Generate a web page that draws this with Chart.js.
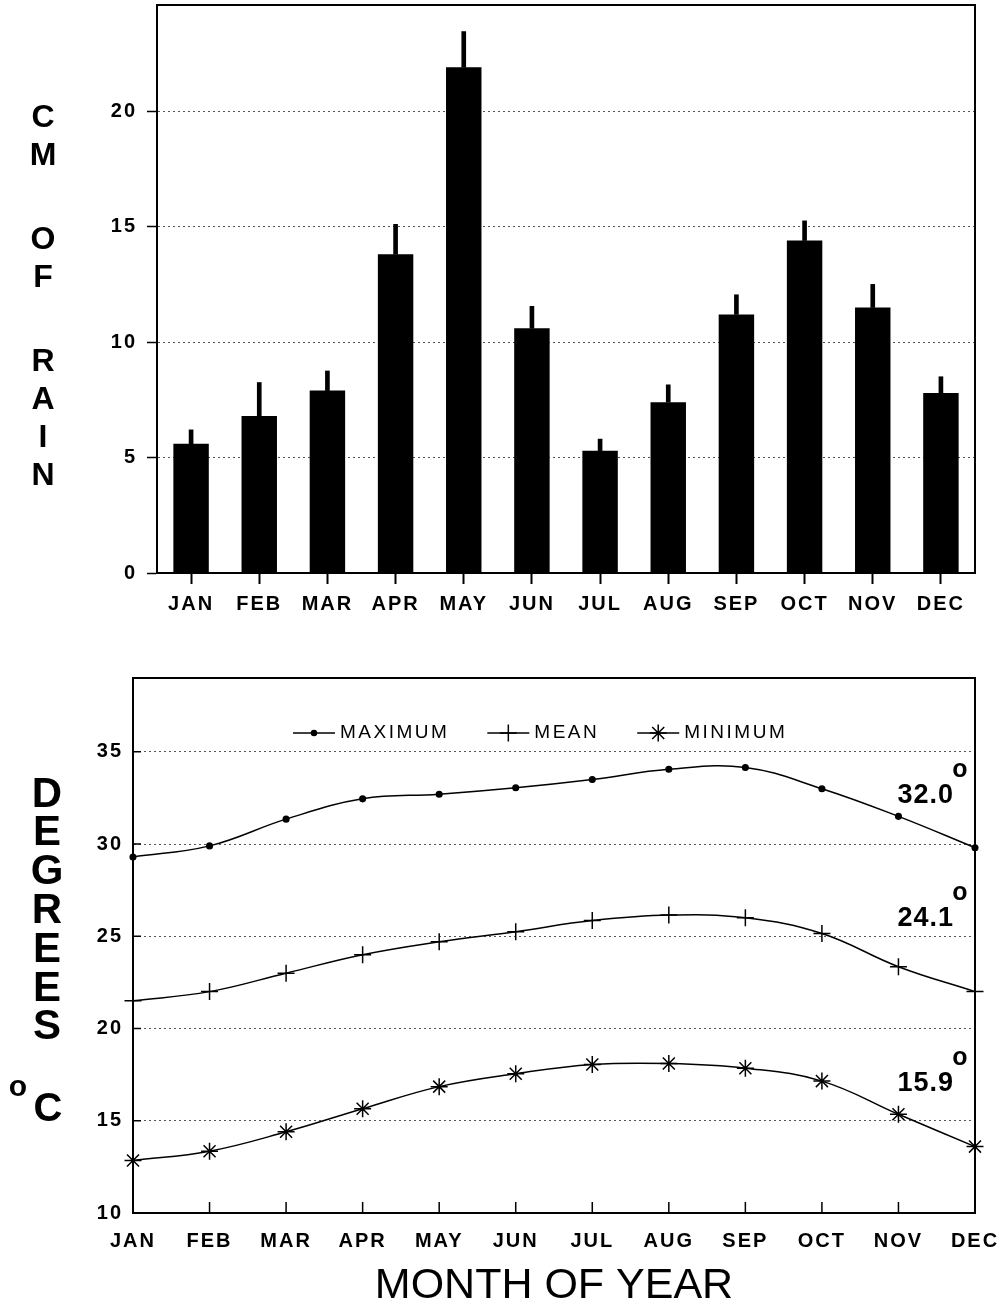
<!DOCTYPE html>
<html>
<head>
<meta charset="utf-8">
<script src="https://cdn.jsdelivr.net/npm/chart.js@4.4.0/dist/chart.umd.min.js"></script>
<style>
  html, body { margin: 0; padding: 0; background: #fff; }
  #wrap { position: relative; width: 1004px; height: 1304px; }
  canvas { position: absolute; left: 0; }
  #rainChart { top: 0; }
  #tempChart { top: 650px; }
</style>
</head>
<body>
<div id="wrap">
  <canvas id="rainChart" width="1004" height="650"></canvas>
  <canvas id="tempChart" width="1004" height="654"></canvas>
</div>
<script>
// ---- data ----
const months = ["JAN", "FEB", "MAR", "APR", "MAY", "JUN", "JUL", "AUG", "SEP", "OCT", "NOV", "DEC"];
const rainCm = [5.6, 6.8, 7.9, 13.8, 21.9, 10.6, 5.3, 7.4, 11.2, 14.4, 11.5, 7.8];
const rainErr = [0.6, 1.45, 0.85, 1.3, 1.55, 0.95, 0.5, 0.75, 0.85, 0.85, 1.0, 0.7];
const rainTicks = [0, 5, 10, 15, 20];

const tempMax = [29.3, 29.9, 31.35, 32.45, 32.7, 33.05, 33.5, 34.05, 34.15, 33.0, 31.5, 29.8];
const tempMean = [21.5, 22.0, 23.0, 24.0, 24.7, 25.25, 25.85, 26.15, 26.0, 25.15, 23.35, 22.0];
const tempMin = [12.85, 13.35, 14.4, 15.65, 16.85, 17.55, 18.05, 18.1, 17.85, 17.15, 15.35, 13.6];
const tempTicks = [10, 15, 20, 25, 30, 35];
const annualMeans = ["32.0", "24.1", "15.9"];

const FONT = "'Liberation Sans', Arial, Helvetica, sans-serif";
Chart.defaults.font.family = FONT;
Chart.defaults.color = "#000";

// box round the plot area
const frame = {
  id: "frame",
  afterDatasetsDraw(chart) {
    const { ctx, chartArea: a } = chart;
    ctx.save();
    ctx.strokeStyle = "#000";
    ctx.lineWidth = 2;
    ctx.strokeRect(a.left, a.top, a.right - a.left, a.bottom - a.top);
    ctx.restore();
  },
};

// spaced-out tick labels
const spacing = {
  id: "spacing",
  beforeDraw(chart) { chart.ctx.letterSpacing = "2px"; },
  afterDraw(chart) { chart.ctx.letterSpacing = "0px"; },
};

// no extra room for overhanging labels, plot area stays where set
const noPad = (s) => { s.paddingLeft = 0; s.paddingRight = 0; s.paddingTop = 0; s.paddingBottom = 0; };

// vertical stacked axis title
function stackedTitle(words, x, y0, lineH, wordGap, size, extra) {
  return {
    id: "stackedTitle",
    afterDraw(chart) {
      const ctx = chart.ctx;
      ctx.save();
      ctx.letterSpacing = "0px";
      ctx.fillStyle = "#000";
      ctx.font = "bold " + size + "px " + FONT;
      ctx.textAlign = "center";
      ctx.textBaseline = "middle";
      let y = y0;
      words.forEach((w) => {
        for (const ch of w) {
          ctx.fillText(ch, x, y);
          y += lineH;
        }
        y += wordGap;
      });
      if (extra) extra(ctx);
      ctx.restore();
    },
  };
}

// ----start rain bar chart ---------
const rainChart = new Chart(document.getElementById("rainChart"), {
  type: "bar",
  data: {
    labels: months,
    datasets: [
      {
        label: "CM OF RAIN",
        data: rainCm,
        backgroundColor: "#000",
        barPercentage: 0.52,
        categoryPercentage: 1,
        order: 2,
      },
      {
        label: "error",
        data: rainCm.map((v, i) => [v, v + rainErr[i]]),
        backgroundColor: "#000",
        barThickness: 4,
        grouped: false,
        order: 1,
      },
    ],
  },
  options: {
    responsive: false,
    animation: false,
    layout: { padding: { top: 5, right: 29, left: 0, bottom: 0 } },
    plugins: {
      legend: { display: false },
      tooltip: { enabled: false },
    },
    scales: {
      x: {
        grid: { drawOnChartArea: false, offset: false, tickLength: 11, tickWidth: 2, tickColor: "#000" },
        border: { color: "#000", width: 2 },
        ticks: { font: { size: 20, weight: "bold" }, padding: 8, maxRotation: 0, autoSkip: false },
        afterFit: (s) => { s.height = 650 - 573; noPad(s); },
      },
      y: {
        min: 0,
        max: 24.6,
        afterBuildTicks: (s) => { s.ticks = rainTicks.map((v) => ({ value: v })); },
        grid: { color: "#555", lineWidth: 1, tickLength: 10, tickColor: "#000", tickWidth: 1.5 },
        border: { dash: [2, 3], color: "#000", width: 2 },
        ticks: { font: { size: 20, weight: "bold" }, padding: 10 },
        afterFit: (s) => { s.width = 157; noPad(s); },
      },
    },
  },
  plugins: [spacing, frame, stackedTitle(["CM", "OF", "RAIN"], 43, 118, 38, 46, 32)],
});
// ----end rain bar chart---------

// legend drawn inside the plot
const tempLegend = {
  id: "tempLegend",
  afterDraw(chart) {
    const { ctx, chartArea: a } = chart;
    ctx.save();
    ctx.letterSpacing = "2.5px";
    ctx.font = "19px " + FONT;
    ctx.fillStyle = "#000";
    ctx.strokeStyle = "#000";
    ctx.textBaseline = "middle";
    const y = a.top + 55;
    let x = a.left + 160;
    chart.data.datasets.forEach((ds) => {
      ctx.lineWidth = 1.5;
      ctx.beginPath();
      ctx.moveTo(x, y);
      ctx.lineTo(x + 42, y);
      ctx.stroke();
      Chart.helpers.drawPoint(ctx, {
        pointStyle: ds.pointStyle,
        radius: ds.pointStyle === "circle" ? 2.5 : 8.5,
        borderWidth: 1.5,
      }, x + 21, y);
      ctx.fillText(ds.label, x + 47, y);
      x += 47 + ctx.measureText(ds.label).width + 38;
    });
    ctx.restore();
  },
};

// annual mean notes at the right, axis title under the months
const tempNotes = {
  id: "tempNotes",
  afterDraw(chart) {
    const { ctx, chartArea: a } = chart;
    const offs = [118, 241, 406];
    ctx.save();
    ctx.fillStyle = "#000";
    annualMeans.forEach((t, i) => {
      ctx.letterSpacing = "1px";
      ctx.font = "bold 27px " + FONT;
      ctx.textAlign = "right";
      ctx.textBaseline = "middle";
      ctx.fillText(t, a.right - 21, a.top + offs[i]);
      ctx.letterSpacing = "0px";
      ctx.font = "bold 25px " + FONT;
      ctx.textAlign = "center";
      ctx.fillText("o", a.right - 15, a.top + offs[i] - 26);
    });
    ctx.letterSpacing = "0px";
    ctx.font = "43px " + FONT;
    ctx.textAlign = "center";
    ctx.textBaseline = "middle";
    ctx.fillText("MONTH OF YEAR", (a.left + a.right) / 2, 636);
    ctx.restore();
  },
};

// inner tick marks
const innerTicks = {
  id: "innerTicks",
  afterDatasetsDraw(chart) {
    const { ctx, chartArea: a, scales } = chart;
    ctx.save();
    ctx.strokeStyle = "#000";
    ctx.lineWidth = 1.5;
    ctx.beginPath();
    scales.x.ticks.forEach((t, i) => {
      const px = scales.x.getPixelForTick(i);
      ctx.moveTo(px, a.bottom);
      ctx.lineTo(px, a.bottom - 11);
    });
    scales.y.ticks.forEach((t, i) => {
      const py = scales.y.getPixelForTick(i);
      ctx.moveTo(a.left, py);
      ctx.lineTo(a.left + 8, py);
    });
    ctx.stroke();
    ctx.restore();
  },
};

// ----start temperature line chart ---------
const lineStyle = {
  borderColor: "#000",
  backgroundColor: "#000",
  borderWidth: 1.5,
  pointBorderColor: "#000",
  pointBackgroundColor: "#000",
  pointBorderWidth: 1.5,
  tension: 0.4,
  clip: false,
};

const tempChart = new Chart(document.getElementById("tempChart"), {
  type: "line",
  data: {
    labels: months,
    datasets: [
      { ...lineStyle, label: "MAXIMUM", data: tempMax, pointStyle: "circle", pointRadius: 2.8 },
      { ...lineStyle, label: "MEAN", data: tempMean, pointStyle: "cross", pointRadius: 8.5 },
      { ...lineStyle, label: "MINIMUM", data: tempMin, pointStyle: "star", pointRadius: 8.5 },
    ],
  },
  options: {
    responsive: false,
    animation: false,
    layout: { padding: { top: 28, right: 29, left: 0, bottom: 0 } },
    plugins: {
      legend: { display: false },
      tooltip: { enabled: false },
    },
    scales: {
      x: {
        offset: false,
        grid: { drawOnChartArea: false, drawTicks: false },
        border: { color: "#000", width: 2 },
        ticks: { font: { size: 20, weight: "bold" }, padding: 16, maxRotation: 0, autoSkip: false },
        afterFit: (s) => { s.height = 1304 - 650 - (1213 - 650); noPad(s); },
      },
      y: {
        min: 10,
        max: 39,
        afterBuildTicks: (s) => { s.ticks = tempTicks.map((v) => ({ value: v })); },
        grid: { color: "#555", lineWidth: 1, drawTicks: false },
        border: { dash: [2, 3], color: "#000", width: 2 },
        ticks: { font: { size: 20, weight: "bold" }, padding: 10 },
        afterFit: (s) => { s.width = 133; noPad(s); },
      },
    },
  },
  plugins: [
    spacing, frame, innerTicks, tempLegend, tempNotes,
    stackedTitle(["DEGREES"], 47, 145, 38.8, 0, 42, (ctx) => {
      ctx.font = "bold 40px " + FONT;
      ctx.fillText("C", 48, 460);
      ctx.font = "bold 30px " + FONT;
      ctx.fillText("o", 18, 438);
    }),
  ],
});
// ----end temperature line chart---------
</script>
</body>
</html>
